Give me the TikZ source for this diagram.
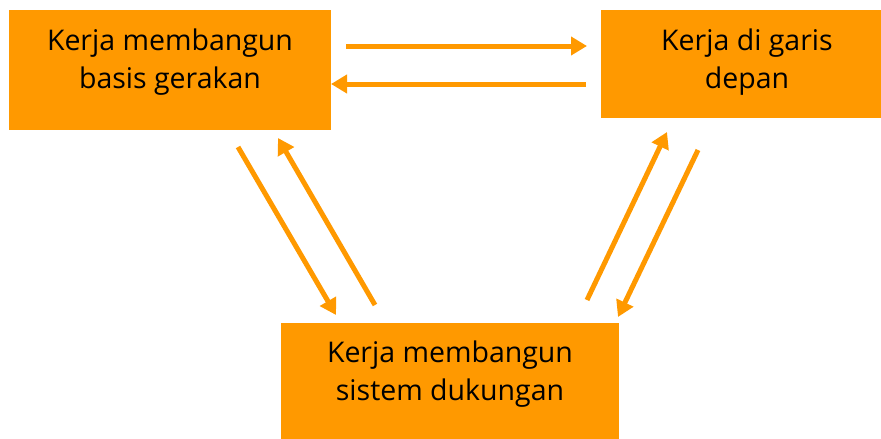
\documentclass[tikz,border=0pt]{standalone}
\usepackage{fontspec}
\setmainfont{Open Sans}
\usetikzlibrary{arrows.meta}
\definecolor{org}{HTML}{FF9900}
\tikzset{
  box/.style={fill=org, draw=none, anchor=north west, inner sep=0pt},
  lbl/.style={font=\fontsize{28.5}{38}\selectfont, align=center, anchor=base, text=black, inner sep=0pt},
  conn/.style={draw=org, line width=5pt, -{Triangle[width=18pt,length=16pt]}}
}
\begin{document}
\begin{tikzpicture}[x=1pt,y=-1pt]
\useasboundingbox (0,0) rectangle (881,439);
\node[box, minimum width=322pt, minimum height=120pt] (A) at (9,10) {};
\node[box, minimum width=280pt, minimum height=108pt] (B) at (601,10) {};
\node[box, minimum width=338pt, minimum height=116pt] (C) at (281,323) {};
\node[lbl] (At) at (170,88) {Kerja membangun\\basis gerakan};
\node[lbl] (Bt) at (747,88) {Kerja di garis\\depan};
\node[lbl] (Ct) at (450,400) {Kerja membangun\\sistem dukungan};
\coordinate (p1) at (346,46);  \coordinate (q1) at (587,46);
\coordinate (p2) at (586,84);  \coordinate (q2) at (331,84);
\coordinate (p3) at (238,147); \coordinate (q3) at (336,315);
\coordinate (p4) at (375,305); \coordinate (q4) at (278,138);
\coordinate (p5) at (587,300); \coordinate (q5) at (667,132);
\coordinate (p6) at (698,150); \coordinate (q6) at (618,317);
\draw[conn] (p1) -- (q1);
\draw[conn] (p2) -- (q2);
\draw[conn] (p3) -- (q3);
\draw[conn] (p4) -- (q4);
\draw[conn] (p5) -- (q5);
\draw[conn] (p6) -- (q6);
\end{tikzpicture}
\end{document}
